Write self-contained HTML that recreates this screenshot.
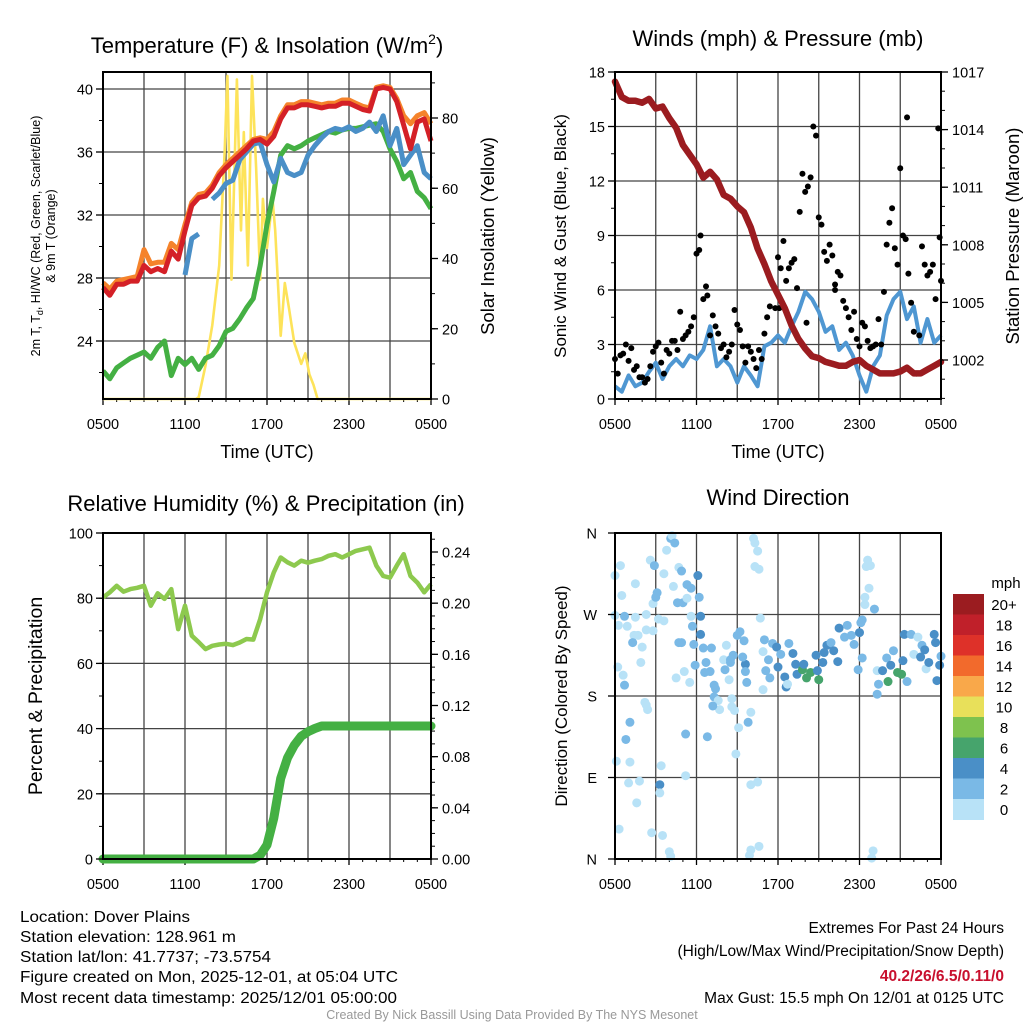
<!DOCTYPE html>
<html><head><meta charset="utf-8"><style>
html,body{margin:0;padding:0;background:#fff;}
svg{display:block;font-family:"Liberation Sans",Arial,sans-serif;}
</style></head><body>
<svg id="fig" width="1024" height="1024" viewBox="0 0 1024 1024" xmlns="http://www.w3.org/2000/svg">
<rect width="1024" height="1024" fill="#fff"/>
<g id="g1"></g>
<g id="g2"></g>
<g id="g3"></g>
<g id="g4"></g>
<g font-size="15.5" fill="#000">
<text x="20" y="922" textLength="170" lengthAdjust="spacingAndGlyphs">Location: Dover Plains</text>
<text x="20" y="942" textLength="216" lengthAdjust="spacingAndGlyphs">Station elevation: 128.961 m</text>
<text x="20" y="962" textLength="251" lengthAdjust="spacingAndGlyphs">Station lat/lon: 41.7737; -73.5754</text>
<text x="20" y="982" textLength="378" lengthAdjust="spacingAndGlyphs">Figure created on Mon, 2025-12-01, at 05:04 UTC</text>
<text x="20" y="1003" textLength="377" lengthAdjust="spacingAndGlyphs">Most recent data timestamp: 2025/12/01 05:00:00</text>
</g>
<g font-size="15.5" fill="#000" text-anchor="end">
<text x="1004" y="933">Extremes For Past 24 Hours</text>
<text x="1004" y="956">(High/Low/Max Wind/Precipitation/Snow Depth)</text>
<text x="1004" y="981" fill="#c8102e" font-weight="bold">40.2/26/6.5/0.11/0</text>
<text x="1004" y="1003">Max Gust: 15.5 mph On 12/01 at 0125 UTC</text>
</g>
<text x="512" y="1019" text-anchor="middle" font-size="12.5" fill="#999">Created By Nick Bassill Using Data Provided By The NYS Mesonet</text>
</svg>
<script>
// ---------- DATA ----------
const hours = [0,0.5,1,1.5,2,2.5,3,3.5,4,4.5,5,5.5,6,6.5,7,7.5,8,8.5,9,9.5,10,10.5,11,11.5,12,12.5,13,13.5,14,14.5,15,15.5,16,16.5,17,17.5,18,18.5,19,19.5,20,20.5,21,21.5,22,22.5,23,23.5,24];
const tempRed = [27.4,26.9,27.6,27.6,27.8,27.8,28.8,28.4,28.6,28.4,29.7,29.2,31,32.6,33.1,33.2,33.7,34.5,35,35.4,35.8,36.2,36.7,36.8,36.5,37,38.1,38.8,38.8,39,39,38.9,38.8,38.9,38.9,39.1,39.1,38.9,38.7,38.6,40,40.1,40,39.2,37.7,36.2,37.9,38.1,36.7];
const tempOrange = [27.7,27.3,27.8,27.9,28,28.1,29.8,28.9,29,29,30.2,29.8,31.4,32.8,33.3,33.4,33.9,34.7,35.2,35.6,36,36.4,36.8,36.9,36.8,37.3,38.3,39,39,39.2,39.2,39.1,39,39.1,39.1,39.3,39.3,39.1,38.9,38.8,40.1,40.2,40.1,39.4,38.3,37.8,38.3,38.5,37.8];
const tempBlue = [null,null,null,null,null,null,null,null,null,null,null,null,28.2,30.5,30.8,null,33,33.4,34,34.2,35.5,36,36.5,36.6,35.2,34.1,35.6,34.7,34.5,34.7,35.8,36.4,36.9,37.3,37.5,37.4,37.6,37.3,37.5,37.9,37.3,38.3,36.4,37.5,35.2,35.8,36.4,34.7,34.3];
const dewGreen = [22.1,21.6,22.3,22.6,22.9,23.1,23.3,22.9,23.6,24,21.8,22.9,22.5,22.9,22.2,22.9,23.1,23.7,24.6,24.8,25.4,26.1,26.7,28.8,31.4,33.5,35.8,36.4,36.2,36.4,36.7,36.9,37.1,37.3,37.2,37.4,37.5,37.5,37.6,37.7,37.8,37.3,36.2,35.4,34.3,34.7,33.5,33.1,32.4];
const solarHours = [0,6.8,7,7.5,8,8.5,8.9,9.1,9.4,9.8,10.1,10.3,10.6,10.9,11.2,11.5,11.7,12,12.4,12.6,13,13.3,13.6,14,14.5,14.8,15.1,15.4,15.7,24];
const solarVals = [0,0,0.5,9.5,21,38,70,92,34,91,48,76,38,92,66,34,57,43,57,48,18,33,26,16,10,13,7,4,0,0];
const windHours = hours;
const windSpeed = [0.7,0.4,1.3,0.7,0.9,1.5,2,1.1,1.8,2.2,1.8,2.4,2.2,2.7,4,1.8,2.2,1.8,0.9,1.8,1.3,0.7,2.9,3.1,3.5,3.1,4,4.8,5.9,5.5,4.8,3.7,4,2.7,3.1,2.4,1.3,0.4,1.8,2.4,4.6,5.5,5.9,4.4,5.1,3.1,4.4,3.1,3.5];
const pressure = [1016.5,1015.7,1015.5,1015.5,1015.4,1015.6,1015.1,1015.2,1014.6,1014.1,1013.2,1012.7,1012.2,1011.5,1011.8,1011.4,1010.6,1010.4,1010,1009.7,1008.9,1007.8,1007,1006.1,1005.4,1004.7,1003.8,1003.1,1002.6,1002.2,1002.1,1001.9,1001.8,1001.7,1001.7,1001.9,1002,1001.7,1001.5,1001.3,1001.3,1001.3,1001.4,1001.6,1001.3,1001.3,1001.5,1001.7,1001.9];
const gustHours = [0,0.2,0.4,0.6,0.8,1,1.2,1.4,1.6,1.8,2,2.2,2.4,2.6,2.8,3,3.2,3.4,3.6,3.8,4,4.2,4.4,4.6,4.8,5,5.2,5.4,5.6,5.8,6,6.2,6.3,6.5,6.7,6.8,7,7.2,7.4,7.6,7.8,8,8.2,8.4,8.6,8.8,9,9.2,9.4,9.6,9.8,10,10.2,10.4,10.6,10.8,11,11.2,11.4,11.6,11.8,12,12.2,12.4,12.6,12.8,13,13.2,13.4,13.6,13.8,14,14.2,14.4,14.6,14.8,15,15.2,15.4,15.6,15.8,16,16.2,16.4,16.6,16.8,17,17.2,17.4,17.6,17.8,18,18.2,18.4,18.6,18.8,19,19.2,19.4,19.6,19.8,20,20.2,20.4,20.6,20.8,21,21.2,21.4,21.6,21.8,22,22.2,22.4,22.6,22.8,23,23.2,23.4,23.6,23.8,24,23.9,21.5,12.1,14.1,16.2];
const gustSpeed = [2.2,1.4,2.4,2.5,3,2.1,2.8,1.6,1.8,1.2,1.2,0.9,1.1,1.8,2.6,2.9,3.1,2,1.4,2.7,2.5,3.2,3.2,2.7,4.8,3.3,3.5,3.7,4,4.5,8,8.2,9,5.5,6.2,5.7,3.5,4.6,4,3.6,2.8,3,2.3,2.6,3,4.9,4.1,3.8,2.9,2,2.9,2.6,2.2,1.7,2.7,2.2,3.6,4.5,5.1,6.3,5,7.8,7.2,8.7,6.5,7.2,7.5,7.7,6.1,10.3,12.4,11.4,11.7,12.2,15,14.5,10,9.6,8.1,7.6,8.5,7.9,6.3,7,6.8,5.4,5,4.5,3.8,4.8,3.3,2.9,4.2,4,3.2,2.8,2.9,3,4.4,3,5.9,8.5,9.7,10.5,8.3,7.4,12.7,9,8.8,6.9,5.3,3.7,1.4,3.5,8.4,7.4,6.8,7,7.4,5.5,14.9,6.5,8.9,15.5,5,4.2,6];
const rh = [80.2,81.8,83.8,82,82.8,83.2,83.8,77.7,81.5,79.8,82.8,70.5,77.7,68.5,66.5,64.4,65.4,65.8,66,65.6,66.4,67.5,67.3,73.6,81.8,87.9,92.5,91,90,91.5,90.9,91.5,92,93,93.5,92.5,93.5,94.5,95,95.5,90,86.8,86.3,90,93.5,86.8,84.8,81.8,84.3];
const precip = [0,0,0,0,0,0,0,0,0,0,0,0,0,0,0,0,0,0,0,0,0,0,0,0.003,0.011,0.032,0.063,0.079,0.089,0.096,0.0995,0.102,0.104,0.104,0.104,0.104,0.104,0.104,0.104,0.104,0.104,0.104,0.104,0.104,0.104,0.104,0.104,0.104,0.104];
// wind direction observations: [hour, degrees, mph]
const dirObs = [[0,313,1],[0.4,324,1],[0.5,291,1],[0,269,1],[0.25,258,1],[0.7,268,3],[0.9,257,1],[1.5,304,1],[1.5,267,1],[1.4,247,1],[1.7,247,1],[1.3,239,3],[2,234,1],[1.9,217,1],[0.2,212,1],[0.6,203,1],[0.7,192,3],[2.3,270,1],[2.3,253,1],[2.6,330,1],[2.9,324,3],[2.8,282,1],[3.1,294,3],[3,289,3],[2.8,252,1],[3.2,265,1],[3.6,263,1],[3.6,315,1],[3.8,341,1],[4.1,354,3],[4.2,357,1],[4.4,349,3],[4.3,301,1],[4.7,322,1],[4.9,318,3],[4.6,283,3],[5,283,3],[5.3,303,3],[5.6,299,3],[5.3,288,1],[4.7,239,3],[4.9,239,3],[5.1,207,1],[5.5,195,1],[4.5,200,1],[5.8,237,3],[5.9,214,3],[5.6,268,1],[6.3,268,5],[6.1,313,5],[6.2,289,3],[5.7,257,3],[6.3,248,5],[6.5,233,3],[7.1,233,3],[6.7,217,3],[6.6,206,3],[7,207,3],[7.3,192,3],[7.4,188,3],[7.3,179,3],[7.6,175,1],[7.7,165,1],[7.2,169,3],[8.6,168,1],[8.8,164,1],[8.6,177,1],[8.2,236,1],[8,220,1],[8.5,220,3],[8.7,225,3],[8.5,217,3],[8.1,209,3],[8.4,198,1],[9.6,215,5],[9,247,3],[9.2,251,3],[9.5,241,3],[9.4,223,3],[9.6,207,3],[9.7,195,3],[9.8,151,3],[10,162,1],[9.1,145,1],[8.9,116,1],[6.8,135,3],[5.2,138,3],[10,82,1],[10.5,85,1],[10.2,354,1],[10.3,349,1],[10.5,340,1],[10.3,323,1],[10.6,320,1],[10.7,266,1],[10.9,229,1],[11,242,3],[10.9,187,1],[11.1,208,3],[11.4,200,3],[11.3,220,3],[11.6,238,3],[11.9,234,5],[12,212,5],[12.2,226,3],[12.5,201,5],[12.6,190,5],[12.7,193,1],[12.8,238,3],[13.1,227,5],[13.3,215,5],[13.4,204,5],[13.8,209,7],[14.1,200,7],[14.4,206,7],[15,198,7],[13.9,215,5],[14.8,225,5],[14.9,208,5],[15.3,217,5],[15.4,228,5],[15.6,236,5],[15.9,239,3],[16.1,230,5],[16.4,218,5],[16.5,255,5],[16.9,245,3],[17.1,258,3],[17.4,247,3],[17.6,237,3],[17.9,209,3],[18,250,5],[18.1,261,3],[18.2,222,3],[18.2,264,3],[18.4,289,1],[18.4,281,1],[18.6,330,1],[18.8,324,1],[18.7,299,1],[18.5,323,1],[19.1,276,3],[19.3,208,1],[19.4,193,3],[19.3,182,3],[19.7,208,5],[20,222,3],[20.1,196,7],[20.3,214,5],[20.5,230,3],[20.8,206,7],[21.1,204,7],[21.2,219,5],[21.3,248,5],[21.5,196,3],[21.8,248,3],[22,226,1],[22.3,245,1],[22.5,223,5],[22.6,236,3],[22.8,231,5],[22.9,210,1],[23.1,217,5],[23.5,248,5],[23.6,239,5],[23.7,197,5],[23.9,214,5],[24,224,3],[19,9,1],[18.9,1,1],[9.9,4,1],[10,10,1],[10.6,14,1],[4,8,1],[4.1,3,1],[3.5,26,1],[2.7,29,1],[0.3,33,1],[1.6,62,1],[1,84,1],[1.8,86,1],[3.3,82,5],[3.3,73,1],[3.4,103,1],[5.2,92,1],[0.1,108,1],[1.1,107,1],[0.8,132,3],[1.1,151,3],[2.2,173,1],[2.4,165,1],[2.3,170,1]];
const dirHours = dirObs.map(p=>p[0]);
const dirDeg = dirObs.map(p=>p[1]);
const dirSpeed = dirObs.map(p=>p[2]);
const speedBins = ["0","2","4","6","8","10","12","14","16","18","20+"];
const speedColors = ["#b8e2f7","#7ab9e6","#4a8fc7","#46a46c","#7ec24e","#e8e05a","#f9a84a","#f26a2c","#de3129","#c0202a","#9b1c20"];
const timeTicks = ["0500","1100","1700","2300","0500"];
const tempTicks = [24,28,32,36,40];
const solarTicks = [0,20,40,60,80];
const windTicks = [0,3,6,9,12,15,18];
const pressTicks = [1002,1005,1008,1011,1014,1017];
const rhTicks = [0,20,40,60,80,100];
const precipTicks = ["0.00","0.04","0.08","0.12","0.16","0.20","0.24"];
const dirTicks = ["N","E","S","W","N"];

// ---------- HELPERS ----------
const NS="http://www.w3.org/2000/svg";
function mk(parent,tag,attrs){const e=document.createElementNS(NS,tag);for(const k in attrs)e.setAttribute(k,attrs[k]);parent.appendChild(e);return e;}
function lin(d0,d1,r0,r1){return v=>r0+(v-d0)*(r1-r0)/(d1-d0);}
function pathFrom(xs,ys,fx,fy){let d="",pen=false;for(let i=0;i<xs.length;i++){if(ys[i]==null){pen=false;continue;}d+=(pen?"L":"M")+fx(xs[i]).toFixed(1)+","+fy(ys[i]).toFixed(1);pen=true;}return d;}

function frame(g,L,T,R,B,fx,hy){
  for(let h=0;h<=24;h+=3){const l=mk(g,"line",{x1:fx(h),x2:fx(h),y1:T,y2:B,stroke:"#444","stroke-width":1.3});
    
    }
  hy.forEach(y=>{const l=mk(g,"line",{x1:L,x2:R,y1:y,y2:y,stroke:"#444","stroke-width":1.3});
    
    });
  timeTicks.forEach((t,i)=>{const x=fx(i*6);
    mk(g,"line",{x1:x,x2:x,y1:B,y2:B+6,stroke:"#000","stroke-width":1.3});
    const tx=mk(g,"text",{x:x,y:B+30,"text-anchor":"middle","font-size":14.5});tx.textContent=t;
    
    });
  for(let h=0;h<=24;h++){const x=fx(h);mk(g,"line",{x1:x,x2:x,y1:B,y2:B+3,stroke:"#000","stroke-width":1});}
}
function box(g,L,T,R,B){const r=mk(g,"rect",{x:L,y:T,width:R-L,height:B-T,fill:"none",stroke:"#000","stroke-width":2});
  
  }
function label(g,x,y,txt,size,rot,name,anchor){const t=mk(g,"text",{x:x,y:y,"font-size":size,"text-anchor":anchor||"middle"});
  if(rot)t.setAttribute("transform","rotate(-90 "+x+" "+y+")");t.textContent=txt;
  
  return t;}
function yticks(g,axisX,vals,fy,side,fmt,name,size){vals.forEach(v=>{const y=fy(+v);
  mk(g,"line",{x1:axisX,x2:axisX+(side<0?-7:7),y1:y,y2:y,stroke:"#000","stroke-width":1.3});
  const t=mk(g,"text",{x:axisX+(side<0?-10:11),y:y+5.5,"font-size":size||14.5,"text-anchor":side<0?"end":"start"});t.textContent=fmt?fmt(v):v;
  
  });}
function minor(g,axisX,a,b,step,fy,side){for(let v=a;v<=b+1e-9;v+=step){const y=fy(v);mk(g,"line",{x1:axisX,x2:axisX+(side<0?-4:4),y1:y,y2:y,stroke:"#000","stroke-width":1});}}

// ---------- PANEL 1 ----------
(function(){
  const g=document.getElementById("g1");const L=103,R=431,T=72,B=399;
  const fx=lin(0,24,L,R), fy=lin(24,40,341,89), fs=lin(0,80,399,118);
  frame(g,L,T,R,B,fx,tempTicks.map(fy));
  const ys=mk(g,"path",{d:pathFrom(solarHours,solarVals,fx,fs),fill:"none",stroke:"#fde35a","stroke-width":2.6,"stroke-linejoin":"round"});
  
  
  const gd=mk(g,"path",{d:pathFrom(hours,dewGreen,fx,fy),fill:"none",stroke:"#44b043","stroke-width":5,"stroke-linejoin":"round"});
  
  
  const bl=mk(g,"path",{d:pathFrom(hours,tempBlue,fx,fy),fill:"none",stroke:"#4a8fc7","stroke-width":5,"stroke-linejoin":"round"});
  
  
  const or=mk(g,"path",{d:pathFrom(hours,tempOrange,fx,fy),fill:"none",stroke:"#f5832b","stroke-width":5,"stroke-linejoin":"round"});
  
  
  const rd=mk(g,"path",{d:pathFrom(hours,tempRed,fx,fy),fill:"none",stroke:"#d42027","stroke-width":5,"stroke-linejoin":"round"});
  
  
  box(g,L,T,R,B);
  yticks(g,L,tempTicks,fy,-1,null,'temp-tick-label');minor(g,L,22,40,2,fy,-1);
  yticks(g,R,solarTicks,fs,1,null,'solar-tick-label');minor(g,R,0,90,10,fs,1);
  label(g,267,53,"",22,false,'panel1-title').innerHTML='Temperature (F) &amp; Insolation (W/m<tspan font-size="14" dy="-9">2</tspan><tspan dy="9">)</tspan>';
  label(g,267,458,"Time (UTC)",18,false,'panel1-x-title');
  const t1=label(g,40,236,"",12.5,true,'temp-y-title');t1.innerHTML='2m T, T<tspan font-size="9" dy="3">d</tspan><tspan dy="-3">, HI/WC (Red, Green, Scarlet/Blue)</tspan>';
  label(g,55,236,"& 9m T (Orange)",12.5,true,'temp-y-title-line2');
  label(g,494,236,"Solar Insolation (Yellow)",18.5,true,'solar-y-title');
})();

// ---------- PANEL 2 ----------
(function(){
  const g=document.getElementById("g2");const L=615,R=941,T=72,B=399;
  const fx=lin(0,24,L,R), fy=lin(0,18,399,72), fp=lin(1002,1017,360,72);
  frame(g,L,T,R,B,fx,windTicks.map(fy));
  const wl=mk(g,"path",{d:pathFrom(windHours,windSpeed,fx,fy),fill:"none",stroke:"#4f97d2","stroke-width":4,"stroke-linejoin":"round"});
  
  
  gustHours.forEach((h,i)=>{const c=mk(g,"circle",{cx:fx(h),cy:fy(gustSpeed[i]),r:3,fill:"#000"});
    
    });
  const pl=mk(g,"path",{d:pathFrom(hours,pressure,fx,fp),fill:"none",stroke:"#9b1c20","stroke-width":6.5,"stroke-linejoin":"round","stroke-linecap":"round"});
  
  
  box(g,L,T,R,B);
  yticks(g,L,windTicks,fy,-1,null,'wind-tick-label');minor(g,L,0,18,1.5,fy,-1);
  yticks(g,R,pressTicks,fp,1,null,'pressure-tick-label');minor(g,R,1000,1017,1,fp,1);
  label(g,778,46,"Winds (mph) & Pressure (mb)",22,false,'panel2-title');
  label(g,778,458,"Time (UTC)",18,false,'panel2-x-title');
  label(g,566,236,"Sonic Wind & Gust (Blue, Black)",17,true,'wind-y-title');
  label(g,1019,236,"Station Pressure (Maroon)",18.5,true,'pressure-y-title');
})();

// ---------- PANEL 3 ----------
(function(){
  const g=document.getElementById("g3");const L=103,R=431,T=533,B=859;
  const fx=lin(0,24,L,R), fy=lin(0,100,859,533), fq=lin(0,0.24,859,552);
  frame(g,L,T,R,B,fx,rhTicks.map(fy));
  const pp=mk(g,"path",{d:pathFrom(hours,precip,fx,fq),fill:"none",stroke:"#44b043","stroke-width":9,"stroke-linejoin":"round","stroke-linecap":"round"});
  
  
  const rl=mk(g,"path",{d:pathFrom(hours,rh,fx,fy),fill:"none",stroke:"#8dc94e","stroke-width":4.5,"stroke-linejoin":"round"});
  
  
  box(g,L,T,R,B);
  yticks(g,L,rhTicks,fy,-1,null,'rh-tick-label');minor(g,L,0,100,10,fy,-1);
  yticks(g,R,precipTicks,fq,1,null,'precip-tick-label');minor(g,R,0,0.25,0.01,fq,1);
  label(g,266,511,"Relative Humidity (%) & Precipitation (in)",22,false,'panel3-title');
  label(g,42,696,"Percent & Precipitation",19.5,true,'rh-y-title');
})();

// ---------- PANEL 4 ----------
(function(){
  const g=document.getElementById("g4");const L=615,R=941,T=533,B=859;
  const fx=lin(0,24,L,R), fy=lin(0,360,859,533);
  frame(g,L,T,R,B,fx,[0,90,180,270,360].map(fy));
  dirHours.forEach((h,i)=>{const idx=Math.max(0,Math.min(10,Math.floor(dirSpeed[i]/2)));
    const c=mk(g,"circle",{cx:fx(h),cy:fy(dirDeg[i]),r:4.5,fill:speedColors[idx]});
    
    });
  box(g,L,T,R,B);
  dirTicks.forEach((t,i)=>{const y=fy(i*90);mk(g,"line",{x1:L,x2:L-7,y1:y,y2:y,stroke:"#000","stroke-width":1.3});
    const tx=mk(g,"text",{x:597,y:y+5.5,"font-size":14.5,"text-anchor":"end"});tx.textContent=t;
    
    });
  label(g,778,505,"Wind Direction",22,false,'panel4-title');
  label(g,567,696,"Direction (Colored By Speed)",17,true,'direction-y-title');
  const cb=mk(g,"g",{});
  
  
  const top=594,h=20.5;
  for(let i=0;i<11;i++){const k=10-i;const y=top+i*h;
    const r=mk(cb,"rect",{x:953,y:y,width:31,height:h+0.5,fill:speedColors[k]});
    
    
    const t=mk(cb,"text",{x:1004,y:y+h/2+5.5,"font-size":15,"text-anchor":"middle"});t.textContent=speedBins[k];
    
    }
  const u=mk(cb,"text",{x:1006,y:588,"font-size":15,"text-anchor":"middle"});u.textContent="mph";
  
  
})();
</script>
</body></html>
